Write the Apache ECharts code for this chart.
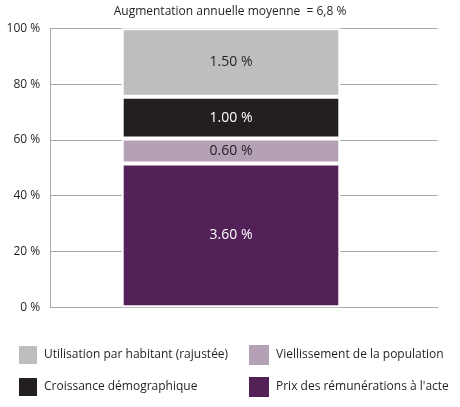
<!DOCTYPE html>
<html>
<head>
<meta charset="utf-8">
<script src="https://cdn.jsdelivr.net/npm/echarts@6/dist/echarts.min.js"></script>
<style>html,body{margin:0;padding:0;background:#fff}#c{width:460px;height:407px}</style>
</head>
<body>
<div id="c"></div>
<script>
var titleText = 'Augmentation annuelle moyenne  = 6,8 %';
var category = ['Augmentation'];
var seriesNames = ['Prix des rémunérations à l\'acte', 'Viellissement de la population', 'Croissance démographique', 'Utilisation par habitant (rajustée)'];
var shareValues = [51.5, 9, 15, 24.5];
var labelTexts = ['3.60 %', '0.60 %', '1.00 %', '1.50 %'];
var yTicks = [0, 20, 40, 60, 80, 100];

var colors = ['#532058', '#B4A1B6', '#231F20', '#BCBEC0'];
var labelColors = ['#ffffff', '#231F20', '#ffffff', '#231F20'];
var FONT = '"Open Sans", sans-serif';

var series = seriesNames.map(function (n, i) {
  return {
    name: n, type: 'bar', stack: 'total',
    xAxisIndex: 0, yAxisIndex: 0,
    barWidth: 218.6,
    data: [shareValues[i]],
    itemStyle: { color: colors[i], borderColor: '#ffffff', borderWidth: 2 },
    label: {
      show: true, position: 'inside',
      formatter: function () { return labelTexts[i]; },
      color: labelColors[i], fontSize: 14, fontFamily: FONT
    },
    emphasis: { disabled: true }
  };
});

// legend slots: [series index, left, top, size]
var legendSlots = [[3, 17, 344, 20], [2, 17, 376, 20], [1, 247, 343, 22], [0, 247, 375, 22]];
var legends = legendSlots.map(function (s) {
  return {
    left: s[1], top: s[2], padding: 0, itemWidth: s[3], itemHeight: s[3], icon: 'rect',
    data: [seriesNames[s[0]]], selectedMode: false,
    textStyle: { fontSize: 12, color: '#231F20', fontFamily: FONT, padding: [0, 0, 0, 1] }
  };
});

var chart = echarts.init(document.getElementById('c'), null, { renderer: 'canvas' });
chart.setOption({
  animation: false,
  backgroundColor: '#ffffff',
  title: {
    text: titleText, left: 'center', top: 1,
    textStyle: { fontSize: 12, fontWeight: 'normal', color: '#231F20', fontFamily: FONT }
  },
  grid: [
    { left: 50.7, right: 48.7, top: 28.3, bottom: 99.7 },
    { left: 50.7, right: 22.3, top: 28.3, bottom: 99.7 }
  ],
  xAxis: [
    { type: 'category', gridIndex: 0, data: category, show: false },
    { type: 'value', gridIndex: 1, min: 0, max: 1, axisLine: { show: true, lineStyle: { color: '#A7A9AC', width: 1 } },
      axisTick: { show: false }, axisLabel: { show: false }, splitLine: { show: false } }
  ],
  yAxis: [
    { type: 'value', gridIndex: 0, min: 0, max: 100, show: false, splitLine: { show: false } },
    { type: 'value', gridIndex: 1, min: yTicks[0], max: yTicks[yTicks.length - 1], interval: 20,
      axisLine: { show: true, lineStyle: { color: '#A7A9AC', width: 1 } },
      axisTick: { show: false },
      splitLine: { show: true, lineStyle: { color: '#A7A9AC', width: 1 } },
      axisLabel: { formatter: '{value} %', margin: 10.5, color: '#231F20', fontSize: 12, fontFamily: FONT } }
  ],
  legend: legends,
  series: series
});
</script>
</body>
</html>
